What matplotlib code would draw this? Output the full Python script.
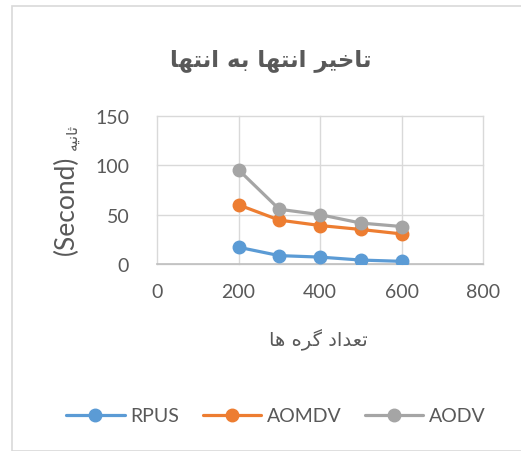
import matplotlib.pyplot as plt
from matplotlib.patches import Rectangle

# data
nodes = [200, 300, 400, 500, 600]
rpus = [17, 8.5, 7, 4, 2.7]
aomdv = [60, 44.5, 39, 35, 30.5]
aodv = [95.5, 55.5, 50, 41.5, 38]
series_names = ["RPUS", "AOMDV", "AODV"]
colors = ["#5B9BD5", "#ED7D31", "#A5A5A5"]
xticks = [0, 200, 400, 600, 800]
yticks = [0, 50, 100, 150]

title_fa = "تاخیر انتها به انتها"
xlabel_fa = "تعداد گره ها"
ylabel_fa = "ثانیه"

# arabic presentation forms: isolated, final, initial, medial
FORMS = {
    "ا": ("\uFE8D", "\uFE8E", None, None),
    "ب": ("\uFE8F", "\uFE90", "\uFE91", "\uFE92"),
    "ت": ("\uFE95", "\uFE96", "\uFE97", "\uFE98"),
    "ث": ("\uFE99", "\uFE9A", "\uFE9B", "\uFE9C"),
    "خ": ("\uFEA5", "\uFEA6", "\uFEA7", "\uFEA8"),
    "د": ("\uFEA9", "\uFEAA", None, None),
    "ر": ("\uFEAD", "\uFEAE", None, None),
    "ع": ("\uFEC9", "\uFECA", "\uFECB", "\uFECC"),
    "ن": ("\uFEE5", "\uFEE6", "\uFEE7", "\uFEE8"),
    "ه": ("\uFEE9", "\uFEEA", "\uFEEB", "\uFEEC"),
    "ی": ("\uFBFC", "\uFBFD", "\uFBFE", "\uFBFF"),
    "گ": ("\uFB92", "\uFB93", "\uFB94", "\uFB95"),
}


def shape(text):
    out = []
    for i, c in enumerate(text):
        if c not in FORMS:
            out.append(c)
            continue
        prev = text[i - 1] if i > 0 else None
        nxt = text[i + 1] if i + 1 < len(text) else None
        jp = prev in FORMS and FORMS[prev][2] is not None
        jn = nxt in FORMS and FORMS[c][2] is not None
        iso, fin, ini, med = FORMS[c]
        if jp and jn:
            out.append(med)
        elif jp:
            out.append(fin)
        elif jn:
            out.append(ini)
        else:
            out.append(iso)
    return "".join(out)[::-1]


plt.rcParams["font.family"] = ["Lato", "DejaVu Sans"]
txt = "#595959"
W, H = 521, 452

fig = plt.figure(figsize=(W / 100, H / 100), dpi=100)
fig.patches.append(Rectangle((12 / W, 0), 1, 1 - 7 / H, transform=fig.transFigure,
                             fill=False, edgecolor="#D9D9D9", linewidth=1.2))

ax = fig.add_axes([157 / W, 1 - 265 / H, (483 - 157) / W, (265 - 117) / H])
for ys, col, name in zip([rpus, aomdv, aodv], colors, series_names):
    ax.plot(nodes, ys, color=col, linewidth=2.3, marker="o", markersize=9, label=name,
            solid_capstyle="round", zorder=3)

ax.set_xlim(0, 800)
ax.set_ylim(0, 150)
ax.set_xticks(xticks)
ax.set_yticks(yticks)
ax.grid(True, color="#D9D9D9", linewidth=1)
for gl in ax.get_xgridlines() + ax.get_ygridlines():
    gl.set_clip_on(False)
for s in ax.spines.values():
    s.set_visible(False)
ax.axhline(0, color="#BFBFBF", linewidth=1.2, zorder=2, clip_on=False)
ax.tick_params(length=0, labelsize=14, labelcolor=txt, pad=14)
ax.tick_params(axis="y", pad=20)
ax.set_axisbelow(True)

fig.text(271 / W, 1 - 60 / H, shape(title_fa), ha="center", va="center",
         fontsize=16.5, fontweight="bold", color=txt, family="DejaVu Sans")
fig.text(318 / W, 1 - 340 / H, shape(xlabel_fa), ha="center", va="center",
         fontsize=14, color=txt, family="DejaVu Sans")
fig.text(66 / W, 1 - 205 / H, "(Second)", rotation=90, ha="center", va="center",
         fontsize=19, color=txt)
fig.text(72 / W, 1 - 137 / H, shape(ylabel_fa), rotation=90, ha="center", va="center",
         fontsize=11, color=txt, family="DejaVu Sans")

fig.legend(loc="center", bbox_to_anchor=(276 / W, 1 - 417 / H), ncol=3, frameon=False,
           fontsize=14, labelcolor=txt, handlelength=3, columnspacing=1.2,
           handletextpad=0.3)

fig.savefig("out.png", dpi=100)
